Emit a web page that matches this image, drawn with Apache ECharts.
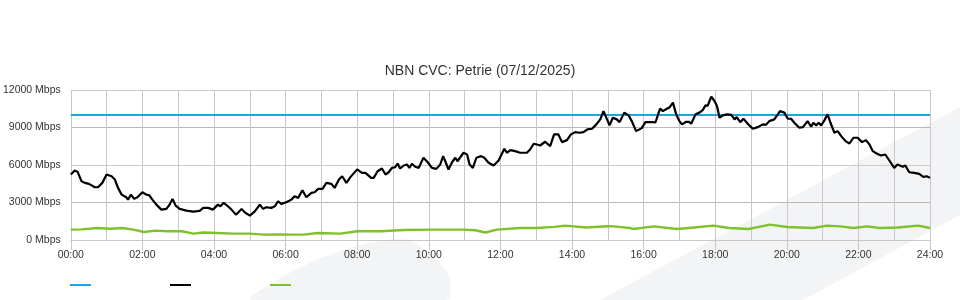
<!DOCTYPE html>
<html>
<head>
<meta charset="utf-8">
<script src="https://cdn.jsdelivr.net/npm/echarts@6/dist/echarts.min.js"></script>
<style>
html,body{margin:0;padding:0;background:#fff;}
#chart{width:960px;height:300px;}
</style>
</head>
<body>
<div id="chart"></div>
<script>
// ---- data ----
var titleText = 'NBN CVC: Petrie (07/12/2025)';
var seriesNames = ['Capacity', 'Download', 'Upload'];
var hourTickLabels = ['00:00','02:00','04:00','06:00','08:00','10:00','12:00','14:00','16:00','18:00','20:00','22:00','24:00'];

var capacityHours = [0, 24];
var capacityMbps = [10000, 10000];

var downloadHours = [0.00,0.11,0.19,0.30,0.39,0.51,0.67,0.76,0.88,1.00,1.14,1.23,1.32,1.42,1.55,1.60,1.68,1.77,1.86,2.00,2.11,2.19,2.28,2.39,2.53,2.67,2.76,2.84,2.93,3.04,3.23,3.42,3.60,3.70,3.84,3.97,4.11,4.18,4.27,4.39,4.49,4.61,4.67,4.77,4.86,5.00,5.14,5.28,5.37,5.46,5.60,5.70,5.79,5.88,6.02,6.16,6.25,6.35,6.47,6.58,6.72,6.81,6.91,7.03,7.14,7.28,7.37,7.49,7.58,7.70,7.81,8.00,8.13,8.23,8.39,8.46,8.57,8.69,8.79,8.88,8.97,9.06,9.13,9.20,9.30,9.39,9.46,9.53,9.62,9.72,9.85,9.97,10.09,10.21,10.32,10.40,10.46,10.55,10.65,10.74,10.80,10.97,11.07,11.14,11.23,11.33,11.46,11.55,11.67,11.81,11.95,12.11,12.18,12.28,12.41,12.55,12.74,12.83,12.93,13.02,13.11,13.25,13.30,13.39,13.50,13.62,13.72,13.86,13.97,14.09,14.21,14.32,14.43,14.56,14.68,14.79,14.88,15.05,15.14,15.25,15.33,15.46,15.58,15.67,15.79,15.95,16.05,16.26,16.33,16.46,16.54,16.65,16.72,16.82,16.91,17.00,17.07,17.19,17.27,17.33,17.45,17.56,17.65,17.73,17.79,17.89,17.98,18.05,18.12,18.21,18.33,18.45,18.54,18.60,18.70,18.79,18.91,19.05,19.19,19.33,19.42,19.51,19.65,19.75,19.81,19.93,20.03,20.12,20.21,20.35,20.45,20.58,20.68,20.74,20.82,20.89,20.96,21.05,21.14,21.22,21.33,21.42,21.52,21.64,21.75,21.86,21.98,22.10,22.21,22.31,22.40,22.51,22.63,22.75,22.86,23.00,23.09,23.24,23.31,23.42,23.56,23.70,23.81,23.91,24.00];
var downloadMbps = [5240,5560,5450,4700,4570,4490,4220,4220,4570,5240,5100,4840,4170,3630,3420,3230,3630,3290,3420,3820,3630,3580,3230,2830,2430,2490,2830,3290,2750,2490,2350,2270,2330,2570,2570,2430,2830,2700,2970,2700,2430,2030,2170,2490,2210,1950,2290,2830,2490,2620,2570,2700,3100,2890,3020,3230,3500,3370,3980,3420,3770,3820,4090,4090,4570,4490,4170,4840,5100,4570,5030,5650,5370,5370,4970,4970,5500,5720,5240,5420,5770,5820,6120,5720,5960,6040,5770,6100,5860,5770,6580,6220,5770,5690,6040,6710,6300,5640,6220,6580,6300,6980,6840,6040,5770,6580,6710,6580,6180,5960,6360,7300,6980,7190,7110,6980,6980,7240,7700,7640,7560,7860,7800,7510,8450,8450,7830,7990,8450,8630,8580,8630,8850,8900,9250,9650,10310,9170,9780,9650,9430,10190,9970,9510,8710,8950,9430,9430,9400,10510,10310,10510,10590,10990,10050,9510,9250,9460,9450,9300,10050,10190,10390,10770,10740,11470,11120,10720,9780,9970,10050,10010,9650,9830,9430,9700,9300,8900,9030,9250,9220,9510,9650,10050,10310,10190,9700,9700,9380,8980,9030,9510,9060,9380,9170,9380,9170,9570,10050,9380,8580,8710,8310,7910,7720,8180,8180,7830,7990,7640,7110,6920,6760,6840,6380,5770,6040,5860,5960,5420,5370,5290,5050,5100,4970];

var uploadHours = [0,0.3,0.74,1.1,1.43,1.75,2.04,2.37,2.7,3.1,3.43,3.7,4.08,4.55,5.0,5.39,5.77,6.13,6.5,6.9,7.53,8.0,8.65,9.3,10.04,10.97,11.3,11.58,11.9,12.55,13.0,13.5,13.81,14.4,14.97,15.16,15.62,15.72,16.28,16.93,17.4,17.95,18.4,18.93,19.53,20.0,20.74,21.11,21.5,21.86,22.24,22.6,23.1,23.67,24];
var uploadMbps = [830,850,960,900,960,830,640,750,700,700,510,600,560,510,510,430,450,430,430,560,510,700,700,800,830,830,780,600,830,960,960,1050,1150,1000,1100,1090,960,880,1090,880,1000,1150,960,880,1230,1040,960,1150,1090,960,1090,960,1000,1150,960];

function pairs(xs, ys){ return xs.map(function(x, i){ return [x, ys[i]]; }); }

var chart = echarts.init(document.getElementById('chart'), null, {renderer: 'canvas'});
var gridColor = '#c8c8c8';
var font = 'Liberation Sans, Arial, sans-serif';

chart.setOption({
  animation: false,
  backgroundColor: '#ffffff',
  title: {
    text: titleText,
    left: 'center',
    top: 59,
    textStyle: {fontSize: 14, fontWeight: 'normal', color: '#333', fontFamily: font}
  },
  graphic: {
    elements: [
      {type: 'polygon', silent: true, z: -10,
       shape: {points: [[600,300],[960,107],[960,215],[803,300]]},
       style: {fill: '#f3f4f6'}},
      {type: 'polygon', silent: true, z: -10,
       shape: {smooth: 0.35, points: [[252,300],[277,280],[310,263],[343,250],[380,241],[404,239],[420,246],[440,263],[450,281],[446,300]]},
       style: {fill: '#f3f4f6'}}
    ]
  },
  legend: {
    left: 70,
    top: 284,
    padding: 0,
    itemWidth: 21,
    itemHeight: 2,
    itemGap: 79,
    icon: 'rect',
    formatter: function(){ return ''; },
    textStyle: {fontSize: 12},
    data: seriesNames
  },
  grid: {left: 70, right: 30, top: 90, bottom: 60, containLabel: false},
  xAxis: {
    type: 'value',
    min: 0, max: 24, interval: 2,
    axisLine: {show: true, lineStyle: {color: gridColor, width: 1}},
    axisTick: {show: true, length: 10, lineStyle: {color: gridColor}},
    axisLabel: {
      margin: 10, fontSize: 10.5, color: '#333', fontFamily: font,
      formatter: function(v){ return hourTickLabels[Math.round(v / 2)]; }
    },
    splitLine: {show: true, lineStyle: {color: gridColor, width: 1}},
    minorTick: {show: false, splitNumber: 2},
    minorSplitLine: {show: true, lineStyle: {color: gridColor, width: 1}}
  },
  yAxis: {
    type: 'value',
    min: 0, max: 12000, interval: 3000,
    axisLine: {show: false},
    axisTick: {show: false},
    axisLabel: {
      margin: 10, fontSize: 10.5, color: '#333', fontFamily: font,
      formatter: function(v){ return v + ' Mbps'; }
    },
    splitLine: {show: true, lineStyle: {color: ['#cccccc', '#b9b9b9'], width: 1}}
  },
  series: [
    {name: seriesNames[0], type: 'line', showSymbol: false, symbol: 'none',
     data: pairs(capacityHours, capacityMbps),
     lineStyle: {color: '#1ea4df', width: 2.2}, itemStyle: {color: '#1ea4df'}, z: 3},
    {name: seriesNames[1], type: 'line', showSymbol: false, symbol: 'none',
     data: pairs(downloadHours, downloadMbps),
     lineStyle: {color: '#000000', width: 2.2}, itemStyle: {color: '#000000'}, z: 4},
    {name: seriesNames[2], type: 'line', showSymbol: false, symbol: 'none',
     data: pairs(uploadHours, uploadMbps),
     lineStyle: {color: '#7fc12a', width: 2.4}, itemStyle: {color: '#7fc12a'}, z: 3}
  ]
});
</script>
</body>
</html>
